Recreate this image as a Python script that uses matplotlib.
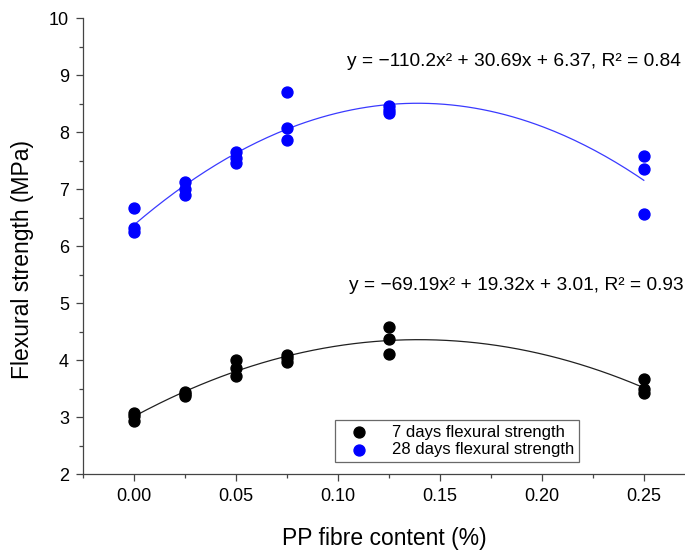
import numpy as np
import matplotlib
matplotlib.use('Agg')
from matplotlib import pyplot as plt
from matplotlib.ticker import MultipleLocator, FormatStrFormatter

plt.rcParams['font.family'] = ['Liberation Sans', 'DejaVu Sans']

# fibre contents (%), three specimens each
pp = [0.0, 0.025, 0.05, 0.075, 0.125, 0.25]

# 7 days flexural strength (MPa)
s7 = [[3.08, 3.02, 2.93],
      [3.44, 3.40, 3.37],
      [4.00, 3.87, 3.72],
      [4.09, 4.03, 3.97],
      [4.58, 4.37, 4.11],
      [3.67, 3.50, 3.43]]

# 28 days flexural strength (MPa)
s28 = [[6.67, 6.31, 6.25],
       [7.12, 7.01, 6.90],
       [7.66, 7.55, 7.45],
       [8.71, 8.07, 7.87],
       [8.45, 8.39, 8.33],
       [7.58, 7.35, 6.56]]

# quadratic fits a*x^2 + b*x + c
fit7 = [-69.19, 19.32, 3.01]
fit28 = [-110.2, 30.69, 6.37]
eq7 = 'y = \u221269.19x\u00b2 + 19.32x + 3.01, R\u00b2 = 0.93'
eq28 = 'y = \u2212110.2x\u00b2 + 30.69x + 6.37, R\u00b2 = 0.84'

fig = plt.figure(figsize=(6.85, 5.5), dpi=100)
ax = fig.add_axes([0.121, 0.138, 0.879, 0.829])

xs = np.linspace(0, 0.25, 200)
ax.plot(xs, np.polyval(fit7, xs), color='#202020', lw=0.9, zorder=2)
ax.plot(xs, np.polyval(fit28, xs), color='#3a3aff', lw=0.9, zorder=2)

x7 = np.repeat(pp, 3)
ax.scatter(x7, np.ravel(s7), s=62, color='black', zorder=3,
           label='7 days flexural strength')
ax.scatter(x7, np.ravel(s28), s=62, color='#0000ff', zorder=3,
           label='28 days flexural strength')

ax.text(0.993, 0.906, eq28, transform=ax.transAxes, ha='right', va='center', fontsize=13.8)
ax.text(0.998, 0.414, eq7, transform=ax.transAxes, ha='right', va='center', fontsize=13.8)

ax.set_xlim(-0.025, 0.2702)
ax.set_ylim(2, 10)
ax.xaxis.set_major_locator(MultipleLocator(0.05))
ax.xaxis.set_minor_locator(MultipleLocator(0.025))
ax.yaxis.set_major_locator(MultipleLocator(1))
ax.yaxis.set_minor_locator(MultipleLocator(0.5))
ax.xaxis.set_major_formatter(FormatStrFormatter('%.2f'))

for s in ['top', 'right']:
    ax.spines[s].set_visible(False)
for s in ['left', 'bottom']:
    ax.spines[s].set_color('#444444')
    ax.spines[s].set_linewidth(0.9)
ax.tick_params(which='major', direction='out', length=5, width=0.9, color='#444444',
               labelsize=13, pad=5)
ax.tick_params(which='minor', direction='out', length=3, width=0.9, color='#444444')

ax.set_xlabel('PP fibre content (%)', fontsize=16.5)
ax.set_ylabel('Flexural strength (MPa)', fontsize=16.5)
ax.xaxis.set_label_coords(0.5, -0.117)
ax.yaxis.set_label_coords(-0.081, 0.47)

leg = ax.legend(loc='lower left', bbox_to_anchor=(0.419, 0.026), borderaxespad=0,
                fontsize=12, frameon=True, fancybox=False, handletextpad=0.9,
                borderpad=0.3, labelspacing=0.15, handlelength=2.2)
leg.get_frame().set_edgecolor('#444444')
leg.get_frame().set_linewidth(0.9)

fig.savefig('out.png', dpi=100)
